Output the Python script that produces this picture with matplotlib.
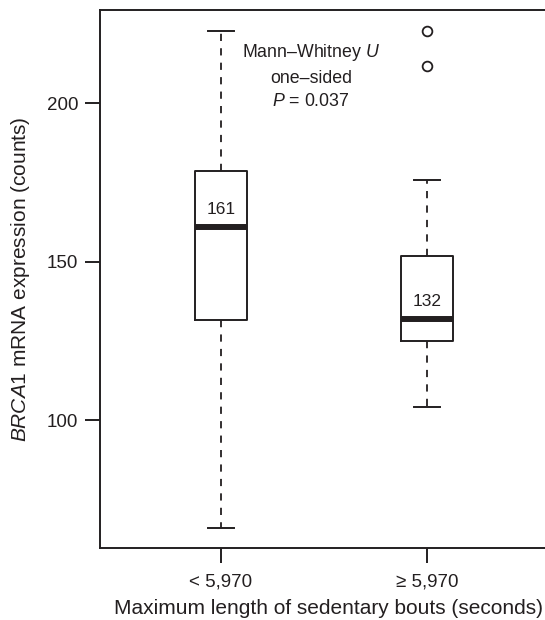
import matplotlib
matplotlib.use('Agg')
import matplotlib.pyplot as plt

plt.rcParams['font.family'] = ['Liberation Sans', 'DejaVu Sans']
plt.rcParams['mathtext.fontset'] = 'custom'
plt.rcParams['mathtext.it'] = 'Liberation Sans:italic'
plt.rcParams['mathtext.rm'] = 'Liberation Sans'

# group labels and box statistics
groups = ['< 5,970', '\u2265 5,970']
whislo = [66.0, 104.0]
q1 = [131.5, 125.0]
med = [161.0, 132.0]
q3 = [178.8, 151.8]
whishi = [223.0, 175.7]
fliers = [[], [222.8, 211.8]]
yticks = [100, 150, 200]

ink = '#231f20'

stats = []
for i in range(len(groups)):
    stats.append(dict(whislo=whislo[i], q1=q1[i], med=med[i], q3=q3[i],
                      whishi=whishi[i], fliers=fliers[i], label=groups[i]))

fig = plt.figure(figsize=(5.45, 6.2), dpi=100)
# the original is cropped on the right: the frame runs past the border
ax = fig.add_axes([100 / 545, (620 - 548) / 620, 456 / 545, 538 / 620])

ax.bxp(stats, positions=[1, 2], widths=0.25, showfliers=True,
       boxprops=dict(color=ink, linewidth=1.4),
       medianprops=dict(color=ink, linewidth=4.3, solid_capstyle='butt'),
       whiskerprops=dict(color=ink, linewidth=1.3, linestyle=(0, (4, 4))),
       capprops=dict(color=ink, linewidth=1.4),
       capwidths=0.125,
       flierprops=dict(marker='o', markersize=7, markerfacecolor='none',
                       markeredgecolor=ink, markeredgewidth=1.3))

ax.set_xlim(0.413, 0.413 + 456 / 206)
ax.set_ylim(59.6, 229.5)
ax.set_yticks(yticks)
ax.set_xticks([1, 2])
ax.set_xticklabels(groups)

for s in ax.spines.values():
    s.set_linewidth(1.4)
    s.set_color(ink)
ax.tick_params(axis='both', length=10.5, width=1.4, color=ink, labelcolor=ink,
               labelsize=13.5)
ax.tick_params(axis='y', pad=5)
ax.tick_params(axis='x', pad=8)

# median labels
for i in range(len(groups)):
    ax.text(i + 1, med[i] + 5.5, f'{med[i]:.0f}', ha='center', va='center',
            fontsize=12.5, color=ink)

ax.text(1.437, 208.5, 'Mann\u2013Whitney $\\it{U}$\none\u2013sided\n$\\it{P}$ = 0.037',
        ha='center', va='center', fontsize=12.8, color=ink, linespacing=1.5)

ax.set_xlabel('Maximum length of sedentary bouts (seconds)', fontsize=15,
              color=ink, labelpad=6)
ax.set_ylabel('$\\it{BRCA1}$ mRNA expression (counts)', fontsize=15,
              color=ink, labelpad=11)

fig.savefig('out.png', dpi=100)
